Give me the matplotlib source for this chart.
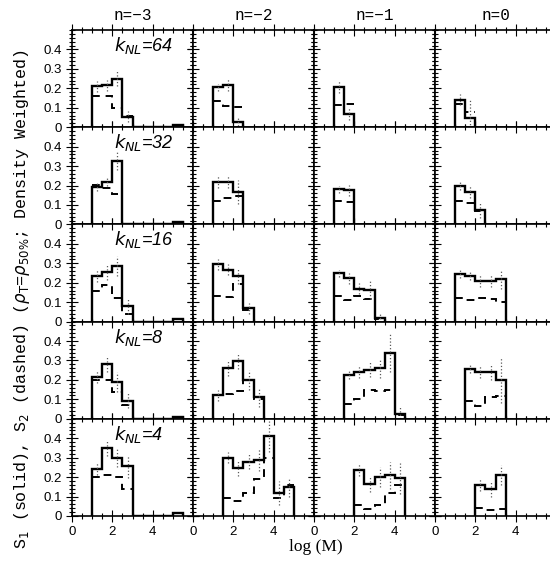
import numpy as np
import matplotlib
matplotlib.use("Agg")
import matplotlib.pyplot as plt
from matplotlib.ticker import MultipleLocator, FixedLocator, FuncFormatter

# columns: spectral index n, rows: k_NL
n_labels = ["n=\u22123", "n=\u22122", "n=\u22121", "n=0"]
k_labels = ["64", "32", "16", "8", "4"]
bin_width = 0.5

# first bin edge of each histogram, per row (one entry per n column)
lo_k64 = [1.0, 1.0, 1.0, 1.0]
lo_k32 = [1.0, 1.0, 1.0, 1.0]
lo_k16 = [1.0, 1.0, 1.0, 1.0]
lo_k8 = [1.0, 1.0, 1.5, 1.5]
lo_k4 = [1.0, 1.5, 2.0, 2.0]

# S1 (solid)
s1_k64 = [[0.21, 0.215, 0.25, 0.055, 0, 0, 0, 0, 0.012], [0.205, 0.218, 0.026],
          [0.207, 0.068], [0.142, 0.045]]
s1_k32 = [[0.193, 0.219, 0.328, 0, 0, 0, 0, 0, 0.01], [0.219, 0.219, 0.166],
          [0.18, 0.175], [0.197, 0.168, 0.075]]
s1_k16 = [[0.236, 0.256, 0.285, 0.08, 0, 0, 0, 0, 0.012], [0.294, 0.268, 0.234, 0.068],
          [0.248, 0.222, 0.17, 0.165, 0.017], [0.244, 0.234, 0.21, 0.21, 0.217]]
s1_k8 = [[0.215, 0.28, 0.19, 0.094, 0, 0, 0, 0, 0.01], [0.12, 0.26, 0.295, 0.2, 0.11],
         [0.226, 0.24, 0.253, 0.26, 0.34, 0.026], [0.256, 0.24, 0.24, 0.2]]
s1_k4 = [[0.24, 0.35, 0.3, 0.255, 0, 0, 0, 0, 0.015],
         [0.3, 0.246, 0.28, 0.29, 0.41, 0.118, 0.147],
         [0.236, 0.164, 0.2, 0.21, 0.193], [0.16, 0.14, 0.21]]

# S2 (dashed)
s2_k64 = [[0.16, 0.16, 0.10, 0.06], [0.133, 0.11, 0.104], [0.116, 0.12], [0.12, 0.08]]
s2_k32 = [[0.205, 0.188, 0.154], [0.123, 0.137, 0.145], [0.123, 0.115], [0.123, 0.108, 0.07]]
s2_k16 = [[0.155, 0.19, 0.12, 0.04], [0.13, 0.125, 0.195, 0.06],
          [0.13, 0.11, 0.13, 0.115, 0.015], [0.12, 0.11, 0.12, 0.115, 0.1]]
s2_k8 = [[0.2, 0.2, 0.14, 0.07], [0.12, 0.13, 0.145, 0.2, 0.1],
         [0.077, 0.1, 0.15, 0.145, 0.15, 0.02], [0.09, 0.065, 0.11, 0.115]]
s2_k4 = [[0.2, 0.21, 0.2, 0.14], [0.09, 0.075, 0.12, 0.19, 0.3, 0.09, 0.16],
         [0.055, 0.035, 0.055, 0.12, 0.16], [0.04, 0.03, 0.036]]

# 1-sigma errors on S1
er_k64 = [[0.03, 0.03, 0.04, 0.03], [0.02, 0.03, 0.02], [0.03, 0.03], [0.03, 0.10]]
er_k32 = [[0.02, 0.02, 0.05], [0.03, 0.03, 0.06], [0.02, 0.03], [0.02, 0.03, 0.04]]
er_k16 = [[0.03, 0.04, 0.05, 0.04], [0.03, 0.03, 0.04, 0.03],
          [0.02, 0.03, 0.03, 0.05, 0.02], [0.02, 0.02, 0.03, 0.03, 0.05]]
er_k8 = [[0.03, 0.04, 0.05, 0.04], [0.03, 0.04, 0.04, 0.05, 0.05],
         [0.02, 0.03, 0.04, 0.05, 0.10, 0.04], [0.02, 0.03, 0.04, 0.12]]
er_k4 = [[0.03, 0.04, 0.05, 0.06], [0.03, 0.04, 0.04, 0.06, 0.08, 0.06, 0.05],
         [0.03, 0.04, 0.05, 0.07, 0.08], [0.03, 0.04, 0.05]]

lo_rows = [lo_k64, lo_k32, lo_k16, lo_k8, lo_k4]
s1_rows = [s1_k64, s1_k32, s1_k16, s1_k8, s1_k4]
s2_rows = [s2_k64, s2_k32, s2_k16, s2_k8, s2_k4]
er_rows = [er_k64, er_k32, er_k16, er_k8, er_k4]

fig, axes = plt.subplots(5, 4, figsize=(5.5, 5.67), dpi=100, sharex=True, sharey=True)
fig.subplots_adjust(left=0.131, right=1.011, bottom=0.090, top=0.947,
                    wspace=0, hspace=0)

for i in range(5):
    for j in range(4):
        ax = axes[i, j]
        s1 = np.array(s1_rows[i][j])
        s2 = np.array(s2_rows[i][j])
        er = np.array(er_rows[i][j])
        lo = lo_rows[i][j]
        e1 = lo + bin_width * np.arange(len(s1) + 1)
        e2 = lo + bin_width * np.arange(len(s2) + 1)

        ax.stairs(s1, e1, baseline=0, color="k", lw=1.7)
        ax.stairs(s2, e2, baseline=None, color="k", lw=1.4, linestyle=(0, (4, 3)))
        cen = e1[:len(er)] + bin_width / 2
        ax.vlines(cen, s1[:len(er)] - er, s1[:len(er)] + er, colors="0.35",
                  linestyles=":", lw=0.9)

        ax.set_xlim(0, 6)
        ax.set_ylim(0, 0.5)
        ax.xaxis.set_major_locator(FixedLocator([0, 2, 4]))
        ax.xaxis.set_minor_locator(MultipleLocator(0.5))
        ax.yaxis.set_major_locator(FixedLocator([0, 0.1, 0.2, 0.3, 0.4]))
        ax.yaxis.set_minor_locator(MultipleLocator(0.02))
        ax.yaxis.set_major_formatter(FuncFormatter(lambda v, p: "0" if v == 0 else f"{v:.1f}"))
        ax.tick_params(which="both", direction="inout", top=True, right=True, width=0.8)
        ax.tick_params(which="major", length=8)
        ax.tick_params(which="minor", length=4)
        for sp in ax.spines.values():
            sp.set_linewidth(1.2)
        for lab in ax.get_xticklabels() + ax.get_yticklabels():
            lab.set_fontfamily("Liberation Sans")
            lab.set_fontsize(9.5)

        if i == 0:
            ax.set_title(n_labels[j], family="Liberation Mono", fontsize=11.5, pad=7)
        if j == 0:
            ax.text(2.1, 0.42, r"$k_{NL}$=" + k_labels[i], fontsize=13,
                    fontstyle="italic", family="Liberation Sans", va="center", ha="left")

fig.text(0.04, 0.473,
         r"S$_1$ (solid), S$_2$ (dashed) ($\rho_{\rm T}$=$\rho_{50\%}$; Density Weighted)",
         rotation=90, va="center", ha="center", family="Liberation Mono", fontsize=12)
fig.text(0.575, 0.035, "log (M)", ha="center", va="center",
         family="Liberation Serif", fontsize=12.5)

fig.savefig("out.png", dpi=100)
